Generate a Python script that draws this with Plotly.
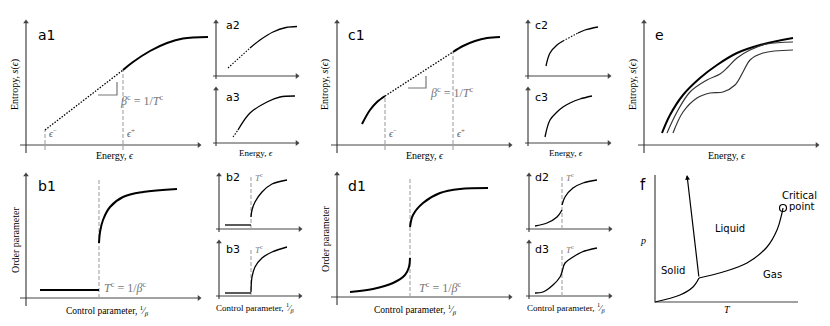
import plotly.graph_objects as go

W, H = 830, 326

# ---------------- data (schematic values, local panel units) ----------------
A1_LIN_X = [19, 97];            A1_LIN_Y = [15, 75]
A1_X = [97, 107, 124, 141, 157, 182]; A1_Y = [75, 83, 94, 102, 106.5, 108]
A1_EPS = [19, 97];              A1_EPS_TOP = [15, 75]

A2_LIN_X = [12, 34];            A2_LIN_Y = [8, 28]
A2_X = [34, 44, 57, 70, 81];    A2_Y = [28, 36, 44, 48.5, 49.5]
A3_LIN_X = [17, 22];            A3_LIN_Y = [6, 13]
A3_X = [22, 34, 51, 64, 79];    A3_Y = [13, 30, 41, 46, 47]

C1_L_X = [25, 33, 40, 48];      C1_L_Y = [21, 35, 43, 49]
C1_LIN_X = [48, 116];           C1_LIN_Y = [49, 93]
C1_R_X = [116, 126, 138, 150, 163]; C1_R_Y = [93, 99, 104, 107, 108]
C1_EPS = [48, 116];             C1_EPS_TOP = [49, 93]

C2_L_X = [18, 22, 29, 35];      C2_L_Y = [10, 23, 31, 35]
C2_LIN_X = [35, 50];            C2_LIN_Y = [35, 43]
C2_R_X = [50, 57, 70];          C2_R_Y = [43, 46, 49]
C3_X = [17, 22, 29, 35, 42, 52, 64]; C3_Y = [6, 23, 31, 36, 40, 44, 47]

E_TOP_X = [18, 26, 39, 56, 73, 93, 116, 149]
E_TOP_Y = [12, 30, 50, 67, 80, 92, 100, 107]
E_MID_X = [23, 33, 46, 63, 76, 84, 93, 106, 123, 149]
E_MID_Y = [12, 33, 53, 65, 71, 78, 87, 95, 101, 103]
E_BOT_X = [29, 39, 53, 66, 79, 91, 99, 106, 119, 149]
E_BOT_Y = [12, 33, 47, 52, 53, 60, 73, 85, 92, 95]

B1_FLAT_X = [14, 73];           B1_FLAT_Y = [8, 8]
B1_X = [73, 74, 77, 84, 97, 117, 151]; B1_Y = [55, 66, 78, 91, 101, 106, 109]
B1_TC = 73
B2_FLAT_X = [6, 32];            B2_FLAT_Y = [4, 4]
B2_X = [32, 33, 36, 43, 53, 68]; B2_Y = [12, 19, 27, 37, 45, 49]
B3_FLAT_X = [6, 32];            B3_FLAT_Y = [3, 3]
B3_X = [32, 33, 36, 43, 53, 68]; B3_Y = [4, 19, 29, 38, 44, 49]
BS_TC = 32

D1_LO_X = [13, 36, 56, 68, 72, 73]; D1_LO_Y = [5, 8, 14, 22, 30, 39]
D1_HI_X = [73, 76, 86, 103, 123, 151]; D1_HI_Y = [70, 82, 94, 104, 108, 109]
D1_TC = 73
D2_LO_X = [6, 18, 28, 33];      D2_LO_Y = [3, 6, 12, 19]
D2_HI_X = [33, 36, 44, 54, 68]; D2_HI_Y = [24, 32, 41, 46, 49]
D3_X = [6, 14, 24, 31, 33, 36, 44, 53, 68]
D3_Y = [3, 4, 11, 19, 24, 33, 39, 44, 48]
DS_TC = 33

F_SG_X = [0, 25, 38, 44];       F_SG_Y = [0, 7, 15, 24]
F_SL_X = [44, 32];              F_SL_Y = [24, 127]
F_LG_X = [44, 68, 92, 112, 122, 127, 128]; F_LG_Y = [24, 30, 39, 55, 72, 89, 94]
F_CRIT = (128, 94)
F_REGIONS = ["Liquid", "Solid", "Gas"]
F_REGION_X = [75, 18, 117];     F_REGION_Y = [74, 32, 28]

# ---------------- panel geometry (pixels) ----------------
PANELS = {
    'a1': (26, 145, 'big'), 'a2': (216, 76, 'small'), 'a3': (216, 143, 'small'),
    'c1': (337, 145, 'big'), 'c2': (528, 76, 'small'), 'c3': (528, 143, 'small'),
    'e': (644, 145, 'big'),
    'b1': (26, 298, 'big'), 'b2': (219, 229, 'small'), 'b3': (219, 296, 'small'),
    'd1': (337, 297, 'big'), 'd2': (529, 229, 'small'), 'd3': (529, 296, 'small'),
    'f': (655, 302, 'big'),
}
EXT = {'big': (-20, 185, -20, 135), 'small': (-10, 88, -12, 62)}
AXIS_EXT = {'big': (-8, 123, -6, 173), 'small': (-3, 54, -3, 81)}

fig = go.Figure()
layout = {}
REF = {}
for i, (name, (ox, oy, kind)) in enumerate(PANELS.items(), start=1):
    L, R, B, T = EXT[kind]
    x0p = max(0, ox + L); x1p = min(W, ox + R)
    ybp = min(H, oy - B); ytp = max(0, oy - T)
    sfx = '' if i == 1 else str(i)
    layout['xaxis' + sfx] = dict(domain=[x0p / W, x1p / W], range=[x0p - ox, x1p - ox],
                                 visible=False, fixedrange=True, anchor='y' + sfx)
    layout['yaxis' + sfx] = dict(domain=[1 - ybp / H, 1 - ytp / H], range=[oy - ybp, oy - ytp],
                                 visible=False, fixedrange=True, anchor='x' + sfx)
    REF[name] = ('x' + sfx, 'y' + sfx)

annotations = []
AX_COL = '#444'
SERIF = 'Liberation Serif'
SANS = 'DejaVu Sans'


def line(p, xs, ys, width=2, dash='solid', color='black', shape='spline'):
    xr, yr = REF[p]
    fig.add_trace(go.Scatter(x=xs, y=ys, xaxis=xr, yaxis=yr, mode='lines',
                             line=dict(width=width, dash=dash, color=color, shape=shape),
                             hoverinfo='skip', showlegend=False))


def text(p, x, y, s, size=10, font=SERIF, color='black', anchor='center', angle=0):
    xr, yr = REF[p]
    annotations.append(dict(x=x, y=y, xref=xr, yref=yr, text=s, showarrow=False,
                            xanchor=anchor, yanchor='middle', textangle=angle,
                            font=dict(family=font, size=size, color=color)))


def vdash(p, x, y0, y1):
    line(p, [x, x], [y0, y1], width=1.2, dash='4px,2px', color='#aaaaaa', shape='linear')


def axes(p):
    kind = PANELS[p][2]
    yb, yt, xl, xrt = AXIS_EXT[kind]
    # same L-shaped construction as panel f, plus short stubs past the origin
    line(p, [0, 0, xrt], [yt, 0, 0], width=1.2, color=AX_COL, shape='linear')
    line(p, [0, 0, xl], [yb, 0, 0], width=1.2, color=AX_COL, shape='linear')
    xr, yr = REF[p]
    fig.add_trace(go.Scatter(x=[0, xrt], y=[yt, 0], xaxis=xr, yaxis=yr, mode='markers',
                             marker=dict(symbol=['triangle-up', 'triangle-right'], size=5,
                                         color=AX_COL),
                             hoverinfo='skip', showlegend=False))


ENERGY = 'Energy, <i>ϵ</i>'
ENTROPY = 'Entropy, <i>s</i>(<i>ϵ</i>)'
CONTROL = 'Control parameter, <sup>1</sup>⁄<sub><i>β</i></sub>'
ORDER = 'Order parameter'
BETA_LBL = '<i>β</i><sup>c</sup> = 1/<i>T</i><sup>c</sup>'
TC_LBL = '<i>T</i><sup>c</sup> = 1/<i>β</i><sup>c</sup>'
TC_SHORT = '<i>T</i><sup>c</sup>'

# ---- a1 ----
axes('a1')
for xe, yt in zip(A1_EPS, A1_EPS_TOP):
    vdash('a1', xe, -5, yt)
line('a1', A1_LIN_X, A1_LIN_Y, width=1.3, dash='1.5px,1.5px', shape='linear')
line('a1', A1_X, A1_Y, width=2)
line('a1', [72, 91, 91], [50, 50, 63], width=1.2, color='#777', shape='linear')
text('a1', 92, 45, BETA_LBL, size=12, color='#777', anchor='left')
text('a1', A1_EPS[0] + 2, 12, '<i>ϵ</i><sup>−</sup>', size=10, color='#555', anchor='left')
text('a1', A1_EPS[1] + 2, 12, '<i>ϵ</i><sup>+</sup>', size=10, color='#555', anchor='left')
text('a1', 10, 110, 'a1', size=14, font=SANS, anchor='left')
text('a1', 89, -10, ENERGY)
text('a1', -11, 60, ENTROPY, angle=-90)

# ---- a2 / a3 ----
axes('a2'); axes('a3')
line('a2', A2_LIN_X, A2_LIN_Y, width=1.1, dash='1.5px,1.5px', shape='linear')
line('a2', A2_X, A2_Y, width=1.3)
line('a3', A3_LIN_X, A3_LIN_Y, width=1.1, dash='1.5px,1.5px', shape='linear')
line('a3', A3_X, A3_Y, width=1.3)
text('a2', 8, 50, 'a2', size=11, font=SANS, anchor='left')
text('a3', 8, 46, 'a3', size=11, font=SANS, anchor='left')
text('a3', 40, -10, ENERGY, size=9)

# ---- c1 ----
axes('c1')
for xe, yt in zip(C1_EPS, C1_EPS_TOP):
    vdash('c1', xe, -5, yt)
line('c1', C1_L_X, C1_L_Y, width=2)
line('c1', C1_LIN_X, C1_LIN_Y, width=1.3, dash='1.5px,1.5px', shape='linear')
line('c1', C1_R_X, C1_R_Y, width=2)
line('c1', [71, 89, 89], [57, 57, 69], width=1.2, color='#777', shape='linear')
text('c1', 91, 53, BETA_LBL, size=12, color='#777', anchor='left')
text('c1', C1_EPS[0] + 2, 12, '<i>ϵ</i><sup>−</sup>', size=10, color='#555', anchor='left')
text('c1', C1_EPS[1] + 2, 12, '<i>ϵ</i><sup>+</sup>', size=10, color='#555', anchor='left')
text('c1', 9, 110, 'c1', size=14, font=SANS, anchor='left')
text('c1', 88, -10, ENERGY)
text('c1', -12, 60, ENTROPY, angle=-90)

# ---- c2 / c3 ----
axes('c2'); axes('c3')
line('c2', C2_L_X, C2_L_Y, width=1.3)
line('c2', C2_LIN_X, C2_LIN_Y, width=1.1, dash='1.5px,1.5px', shape='linear')
line('c2', C2_R_X, C2_R_Y, width=1.3)
line('c3', C3_X, C3_Y, width=1.3)
text('c2', 5, 50, 'c2', size=11, font=SANS, anchor='left')
text('c3', 5, 46, 'c3', size=11, font=SANS, anchor='left')
text('c3', 38, -10, ENERGY, size=9)

# ---- e ----
axes('e')
line('e', E_TOP_X, E_TOP_Y, width=2)
line('e', E_MID_X, E_MID_Y, width=1.2, color='#333')
line('e', E_BOT_X, E_BOT_Y, width=1.2, color='#333')
text('e', 9, 110, 'e', size=14, font=SANS, anchor='left')
text('e', 83, -10, ENERGY)
text('e', -11, 60, ENTROPY, angle=-90)

# ---- b1 ----
axes('b1')
vdash('b1', B1_TC, 0, 118)
line('b1', B1_FLAT_X, B1_FLAT_Y, width=2, shape='linear')
line('b1', B1_X, B1_Y, width=2)
text('b1', 76, 11, TC_LBL, size=12, color='#777', anchor='left')
text('b1', 10, 112, 'b1', size=14, font=SANS, anchor='left')
text('b1', 81, -12, CONTROL, size=9.5)
text('b1', -11, 58, ORDER, angle=-90)

# ---- b2 / b3 ----
axes('b2'); axes('b3')
vdash('b2', BS_TC, 0, 52); vdash('b3', BS_TC, 0, 48)
line('b2', B2_FLAT_X, B2_FLAT_Y, width=1.3, shape='linear')
line('b2', B2_X, B2_Y, width=1.3)
line('b3', B3_FLAT_X, B3_FLAT_Y, width=1.3, shape='linear')
line('b3', B3_X, B3_Y, width=1.3)
text('b2', 5, 52, 'b2', size=11, font=SANS, anchor='left')
text('b3', 5, 47, 'b3', size=11, font=SANS, anchor='left')
text('b2', BS_TC + 2, 52, TC_SHORT, size=9, color='#777', anchor='left')
text('b3', BS_TC + 2, 47, TC_SHORT, size=9, color='#777', anchor='left')
text('b3', 36, -11, CONTROL, size=9)

# ---- d1 ----
axes('d1')
vdash('d1', D1_TC, 0, 119)
line('d1', D1_LO_X, D1_LO_Y, width=2)
line('d1', D1_HI_X, D1_HI_Y, width=2)
text('d1', 80, 10, TC_LBL, size=12, color='#777', anchor='left')
text('d1', 9, 111, 'd1', size=14, font=SANS, anchor='left')
text('d1', 78, -12, CONTROL, size=9.5)
text('d1', -12, 58, ORDER, angle=-90)

# ---- d2 / d3 ----
axes('d2'); axes('d3')
vdash('d2', DS_TC, 0, 52); vdash('d3', DS_TC, 0, 48)
line('d2', D2_LO_X, D2_LO_Y, width=1.3)
line('d2', D2_HI_X, D2_HI_Y, width=1.3)
line('d3', D3_X, D3_Y, width=1.3)
text('d2', 4, 52, 'd2', size=11, font=SANS, anchor='left')
text('d3', 4, 47, 'd3', size=11, font=SANS, anchor='left')
text('d2', DS_TC + 2, 52, TC_SHORT, size=9, color='#777', anchor='left')
text('d3', DS_TC + 2, 47, TC_SHORT, size=9, color='#777', anchor='left')
text('d3', 37, -11, CONTROL, size=9)

# ---- f ----
line('f', [0, 0, 143], [127, 0, 0], width=1.2, color=AX_COL, shape='linear')
line('f', F_SG_X, F_SG_Y, width=1.2)
line('f', F_LG_X, F_LG_Y, width=1.2)
xr, yr = REF['f']
annotations.append(dict(x=F_SL_X[1], y=F_SL_Y[1], ax=F_SL_X[0], ay=F_SL_Y[0],
                        xref=xr, yref=yr, axref=xr, ayref=yr, showarrow=True, text='',
                        arrowhead=2, arrowsize=0.8, arrowwidth=1.2, arrowcolor='black'))
fig.add_trace(go.Scatter(x=[F_CRIT[0]], y=[F_CRIT[1]], xaxis=xr, yaxis=yr, mode='markers',
                         marker=dict(symbol='circle-open', size=7, color='black', line=dict(width=1.2)),
                         hoverinfo='skip', showlegend=False))
for s, x, y in zip(F_REGIONS, F_REGION_X, F_REGION_Y):
    text('f', x, y, s, size=10, font=SANS)
text('f', 144, 107, 'Critical', size=10, font=SANS)
text('f', 132, 96, 'point', size=10, font=SANS, anchor='left')
text('f', -12, 117, 'f', size=15, font=SANS)
text('f', -12, 62, '<i>p</i>', size=10)
text('f', 72, -7, '<i>T</i>', size=10)

fig.update_layout(**layout)
fig.update_layout(width=W, height=H, margin=dict(l=0, r=0, t=0, b=0),
                  paper_bgcolor='white', plot_bgcolor='rgba(0,0,0,0)',
                  showlegend=False, annotations=annotations)
fig.write_html("out.html", config={'displayModeBar': False},
               post_script="document.body.style.margin='0px';")
